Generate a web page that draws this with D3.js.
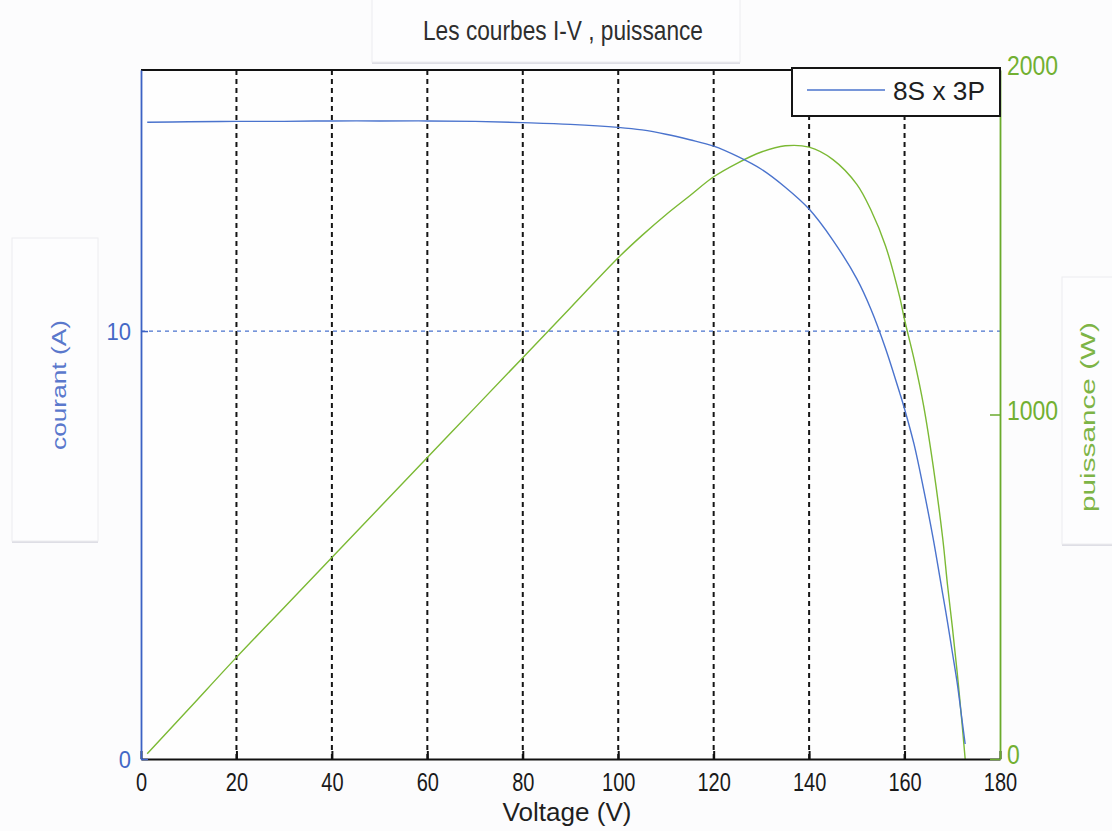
<!DOCTYPE html>
<html>
<head>
<meta charset="utf-8">
<script src="https://cdn.jsdelivr.net/npm/d3@7/dist/d3.min.js"></script>
<style>
  html, body { margin: 0; padding: 0; background: #fcfcfd; }
  svg { display: block; }
  text { font-family: "Liberation Sans", Arial, sans-serif; }
</style>
</head>
<body>
<script>
// I-V and power curves of a PV array (8 in series x 3 in parallel)
const voltage = [1.3, 10, 20, 30, 40, 50, 60, 70, 80, 90, 100, 105, 110, 115, 120, 125, 130, 135, 140, 145, 150, 153, 156, 159, 160, 162, 164, 166, 168, 169, 170, 171, 172, 172.7];
const current = [14.88, 14.89, 14.90, 14.90, 14.91, 14.91, 14.91, 14.90, 14.87, 14.83, 14.76, 14.70, 14.60, 14.47, 14.32, 14.08, 13.78, 13.36, 12.85, 12.12, 11.22, 10.50, 9.60, 8.55, 8.18, 7.35, 6.30, 5.15, 3.85, 3.20, 2.50, 1.80, 0.95, 0.35];
const power   = [15, 145, 295, 440, 585, 730, 875, 1020, 1165, 1310, 1455, 1520, 1580, 1635, 1690, 1730, 1762, 1780, 1776, 1740, 1668, 1592, 1490, 1340, 1275, 1160, 1025, 850, 640, 505, 385, 255, 110, 0];

const voltageTicks = [0, 20, 40, 60, 80, 100, 120, 140, 160, 180];
const gridVoltages = [20, 40, 60, 80, 100, 120, 140, 160];
const currentTicks = [0, 10];
const powerTicks = [0, 1000, 2000];
const currentGrid = [10];

const titleText = "Les courbes I-V , puissance";
const xLabel = "Voltage (V)";
const yLeftLabel = "courant (A)";
const yRightLabel = "puissance (W)";
const legendLabel = "8S  x  3P";

const W = 1112, H = 831;
const plot = { left: 141, right: 1000, top: 70, bottom: 759 };

const BLUE = "#3c62c4", BLUE_LINE = "#4a73cd", BLUE_TXT = "#4468c6";
const GREEN = "#6aaa2c", GREEN_LINE = "#7bb934", GREEN_TXT = "#72b032";

const svg = d3.select("body").append("svg").attr("width", W).attr("height", H);
svg.append("rect").attr("width", W).attr("height", H).attr("fill", "#fcfcfd");

const x = d3.scaleLinear().domain([0, 180]).range([plot.left, plot.right]);
const yI = d3.scaleLinear().domain([0, 16.1]).range([plot.bottom, plot.top]);
const yP = d3.scaleLinear().domain([0, 2000]).range([plot.bottom, plot.top]);

// pasted label panels with a soft shadow on the lower edge
function panel(x0, y0, w, h) {
  const g = svg.append("g");
  g.append("rect").attr("x", x0).attr("y", y0 + 2).attr("width", w).attr("height", h)
    .attr("fill", "#d6d6de").attr("opacity", 0.8);
  g.append("rect").attr("x", x0).attr("y", y0).attr("width", w).attr("height", h)
    .attr("fill", "#fdfdfe").attr("stroke", "#ececf0").attr("stroke-width", 1);
}
panel(372, -4, 368, 66);
panel(12, 238, 86, 303);
panel(1062, 277, 60, 267);

// plot background
svg.append("rect").attr("x", plot.left).attr("y", plot.top)
  .attr("width", plot.right - plot.left).attr("height", plot.bottom - plot.top)
  .attr("fill", "#fefefe");

// vertical dashed grid
svg.append("g").selectAll("line").data(gridVoltages).join("line")
  .attr("x1", d => x(d)).attr("x2", d => x(d))
  .attr("y1", plot.top).attr("y2", plot.bottom)
  .attr("stroke", "#151515").attr("stroke-width", 2).attr("stroke-dasharray", "5,4");

// horizontal dashed grid on the current axis
svg.append("g").selectAll("line").data(currentGrid).join("line")
  .attr("x1", plot.left).attr("x2", plot.right)
  .attr("y1", d => yI(d)).attr("y2", d => yI(d))
  .attr("stroke", BLUE_LINE).attr("stroke-width", 1.3).attr("stroke-dasharray", "4,4");

// curves
const idx = d3.range(voltage.length);
svg.append("path").datum(idx)
  .attr("fill", "none").attr("stroke", GREEN_LINE).attr("stroke-width", 1.4)
  .attr("d", d3.line().x(i => x(voltage[i])).y(i => yP(power[i])).curve(d3.curveCatmullRom.alpha(0.5)));
svg.append("path").datum(idx)
  .attr("fill", "none").attr("stroke", BLUE_LINE).attr("stroke-width", 1.4)
  .attr("d", d3.line().x(i => x(voltage[i])).y(i => yI(current[i])).curve(d3.curveCatmullRom.alpha(0.5)));

// stretch text glyphs vertically about their anchor
function stretch(sel, sy = 1.25, dyShift = 0) {
  sel.each(function () {
    const t = d3.select(this);
    const tx = +t.attr("x") || 0, ty = (+t.attr("y") || 0) + dyShift;
    t.attr("transform", `translate(${tx},${ty}) scale(1,${sy})`).attr("x", 0).attr("y", 0);
  });
}

// top border
svg.append("line").attr("x1", plot.left).attr("x2", plot.right)
  .attr("y1", plot.top).attr("y2", plot.top).attr("stroke", "#111").attr("stroke-width", 2);

// bottom axis
const gx = svg.append("g").attr("transform", `translate(0,${plot.bottom})`)
  .call(d3.axisBottom(x).tickValues(voltageTicks).tickSizeInner(-8).tickSizeOuter(0).tickPadding(14));
gx.select(".domain").attr("stroke", "#111").attr("stroke-width", 2.2);
gx.selectAll(".tick line").attr("stroke", "#111").attr("stroke-width", 2);
gx.selectAll(".tick text").attr("font-size", 20).attr("fill", "#1a1a1a")
  .attr("font-family", "Liberation Sans, Arial, sans-serif").call(stretch, 1.25);

// left axis (current)
const gl = svg.append("g").attr("transform", `translate(${plot.left},0)`)
  .call(d3.axisLeft(yI).tickValues(currentTicks).tickSizeInner(-7).tickSizeOuter(0).tickPadding(10));
gl.select(".domain").attr("stroke", BLUE).attr("stroke-width", 1.8);
gl.selectAll(".tick line").attr("stroke", BLUE).attr("stroke-width", 1.5);
gl.selectAll(".tick text").attr("font-size", 22).attr("fill", BLUE_TXT)
  .attr("font-family", "Liberation Sans, Arial, sans-serif").call(stretch, 1.1, 1);

// right axis (power)
const gr = svg.append("g").attr("transform", `translate(${plot.right},0)`)
  .call(d3.axisRight(yP).tickValues(powerTicks).tickFormat(d3.format("d"))
    .tickSizeInner(-10).tickSizeOuter(0).tickPadding(7));
gr.select(".domain").attr("stroke", GREEN).attr("stroke-width", 1.8);
gr.selectAll(".tick line").attr("stroke", GREEN).attr("stroke-width", 1.5);
gr.selectAll(".tick text").attr("font-size", 23).attr("fill", GREEN_TXT)
  .attr("font-family", "Liberation Sans, Arial, sans-serif").call(stretch, 1.2, -4);

// title
svg.append("text").attr("x", 563).attr("y", 40).attr("text-anchor", "middle")
  .attr("font-size", 22).attr("fill", "#2e2e2e")
  .attr("textLength", 280).attr("lengthAdjust", "spacingAndGlyphs")
  .text(titleText).call(stretch, 1.25);

// x label
svg.append("text").attr("x", 567).attr("y", 821).attr("text-anchor", "middle")
  .attr("font-size", 20).attr("fill", "#1f1f1f")
  .attr("textLength", 129).attr("lengthAdjust", "spacingAndGlyphs")
  .text(xLabel).call(stretch, 1.25);

// rotated axis labels
svg.append("text").attr("transform", "translate(66,385) rotate(-90)")
  .attr("text-anchor", "middle").attr("font-size", 21).attr("fill", "#5a78cc")
  .attr("textLength", 130).attr("lengthAdjust", "spacingAndGlyphs")
  .text(yLeftLabel);
svg.append("text").attr("transform", "translate(1095,417) rotate(-90)")
  .attr("text-anchor", "middle").attr("font-size", 21).attr("fill", "#7db446")
  .attr("textLength", 190).attr("lengthAdjust", "spacingAndGlyphs")
  .text(yRightLabel);

// legend
const lg = svg.append("g");
lg.append("rect").attr("x", 792).attr("y", 68).attr("width", 208).attr("height", 48)
  .attr("fill", "#fefefe").attr("stroke", "#151515").attr("stroke-width", 2);
lg.append("line").attr("x1", 807).attr("x2", 885).attr("y1", 90).attr("y2", 90)
  .attr("stroke", BLUE_LINE).attr("stroke-width", 1.5);
lg.append("text").attr("x", 893).attr("y", 100).attr("font-size", 20).attr("fill", "#1f1f1f")
  .attr("textLength", 92).attr("lengthAdjust", "spacingAndGlyphs")
  .text(legendLabel).call(stretch, 1.25);
</script>
</body>
</html>
